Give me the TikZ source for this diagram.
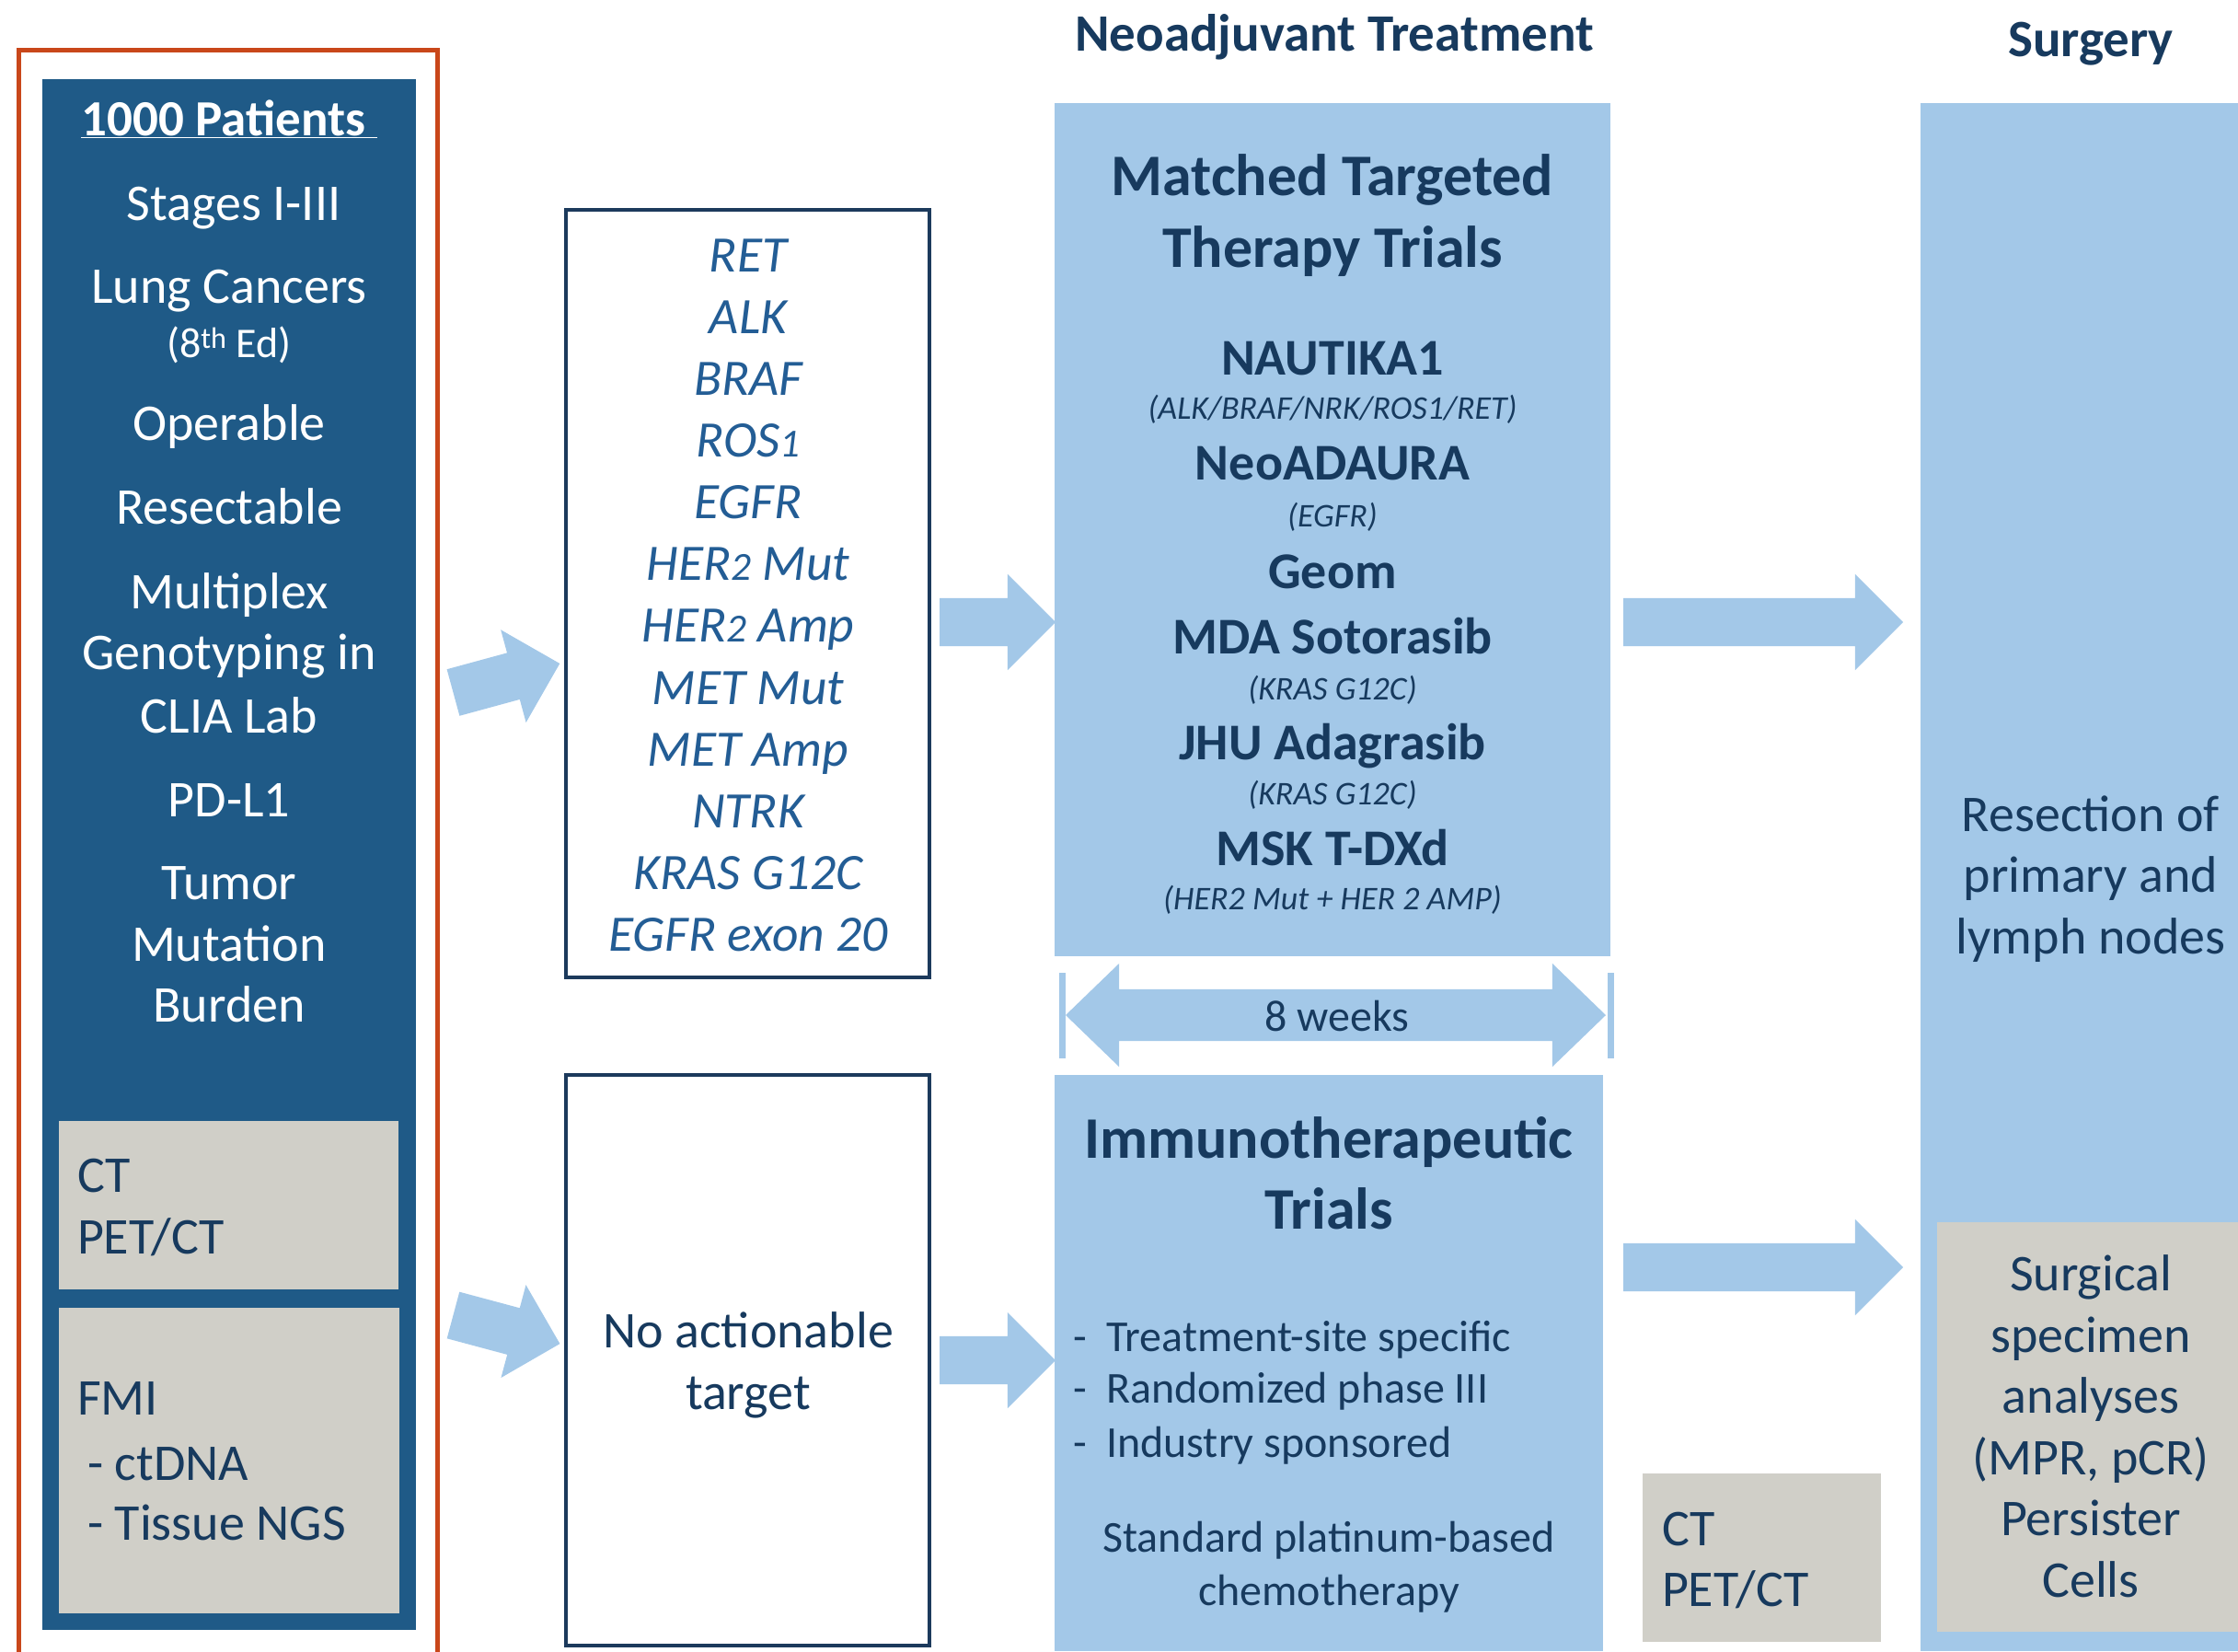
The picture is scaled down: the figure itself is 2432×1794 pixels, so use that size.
\documentclass[tikz,border=0pt]{standalone}
\usepackage{fontspec}
\setmainfont{Carlito}
\usetikzlibrary{shapes.arrows}
\definecolor{navy}{HTML}{173A5E}
\definecolor{genec}{HTML}{235D95}
\definecolor{dblue}{HTML}{1F5A87}
\definecolor{lblue}{HTML}{A3C8E8}
\definecolor{greyb}{HTML}{D0CFC8}
\definecolor{orng}{HTML}{C9471A}
\definecolor{boxline}{HTML}{1C3A5C}
\begin{document}
\begin{tikzpicture}[x=1pt,y=-1pt,
  every node/.style={inner sep=0pt, outer sep=0pt},
  panel/.style={anchor=north west, draw=none},
  t54/.style={anchor=base, font=\fontsize{56}{68}\selectfont},
  wt/.style={t54, text=white},
  wtb/.style={wt, font=\fontsize{55}{67}\selectfont\bfseries},
  nt/.style={t54, text=navy},
  ntl/.style={nt, anchor=base west},
  ntb/.style={nt, font=\fontsize{56}{68}\selectfont\bfseries},
  gene/.style={t54, text=genec, font=\fontsize{55.5}{67}\selectfont\itshape},
  sub/.style={anchor=base, text=navy, font=\fontsize{36}{44}\selectfont\itshape},
  big/.style={anchor=base, text=navy, font=\fontsize{64}{78}\selectfont\bfseries},
  head/.style={anchor=base, text=navy, font=\fontsize{57}{69}\selectfont\bfseries},
  small/.style={anchor=base, text=navy, font=\fontsize{48}{58}\selectfont},
  fat/.style={single arrow, fill=lblue, draw=none, inner sep=0pt, inner ysep=26pt,
    single arrow head extend=26pt, single arrow tip angle=90, single arrow head indent=0pt,
    anchor=tail},
]
\useasboundingbox[fill=white] (0,0) rectangle (2432,1794);

% orange frame
\coordinate (ofbl) at (20,1800);
\coordinate (oftl) at (20,54.5);
\coordinate (oftr) at (475,54.5);
\coordinate (ofbr) at (475,1800);
\draw[orng, line width=5pt] (ofbl) -- (oftl) -- (oftr) -- (ofbr);

% panels
\node[panel, fill=dblue, minimum width=406pt, minimum height=1685pt] (pat) at (46,86) {};
\node[panel, fill=greyb, minimum width=369pt, minimum height=183pt] (ct1) at (64,1218) {};
\node[panel, fill=greyb, minimum width=370pt, minimum height=332pt] (fmi) at (64,1421) {};
\node[panel, draw=boxline, line width=4pt, minimum width=395pt, minimum height=834pt] (genes) at (615,228) {};
\node[panel, draw=boxline, line width=4pt, minimum width=395pt, minimum height=620pt] (noact) at (615,1168) {};
\node[panel, fill=lblue, minimum width=604pt, minimum height=927pt] (match) at (1146,112) {};
\node[panel, fill=lblue, minimum width=596pt, minimum height=626pt] (immuno) at (1146,1168) {};
\node[panel, fill=lblue, minimum width=345pt, minimum height=1682pt] (surg) at (2087,112) {};
\node[panel, fill=greyb, minimum width=327pt, minimum height=445pt] (sgrey) at (2105,1328) {};
\node[panel, fill=greyb, minimum width=259pt, minimum height=183pt] (ct2) at (1785,1601) {};

% left patient text
\node[wtb] (p1) at (249,147) {\underline{1000 Patients\ }};
\node[wt] (p2) at (254,239) {Stages I-III};
\node[wt] (p3) at (249,329) {Lung Cancers};
\node[wt, font=\fontsize{46}{55}\selectfont] (p4) at (249,388) {(8\textsuperscript{th} Ed)};
\node[wt] (p5) at (249,478) {Operable};
\node[wt] (p6) at (249,569) {Resectable};
\node[wt] (p7) at (249,661) {Multiplex};
\node[wt] (p8) at (249,727) {Genotyping in};
\node[wt] (p9) at (249,796) {CLIA Lab};
\node[wt] (p10) at (249,887) {PD-L1};
\node[wt] (p11) at (249,977) {Tumor};
\node[wt] (p12) at (249,1044) {Mutation};
\node[wt] (p13) at (249,1110) {Burden};

\node[ntl] (c1) at (84,1295) {CT};
\node[ntl] (c2) at (84,1362) {PET/CT};
\node[ntl] (f1) at (84,1537) {FMI};
\node[ntl] (f2) at (95,1608) {- ctDNA};
\node[ntl] (f3) at (95,1673) {- Tissue NGS};

% gene list (old-style figure look for ROS1 / HER2)
\newcommand\osn[1]{\scalebox{0.78}{#1}}
\node[gene] (g1) at (813,295) {RET};
\node[gene] (g2) at (813,362) {ALK};
\node[gene] (g3) at (813,429) {BRAF};
\node[gene] (g4) at (813,496) {ROS\osn{1}};
\node[gene] (g5) at (813,563) {EGFR};
\node[gene] (g6) at (813,630) {HER\osn{2} Mut};
\node[gene] (g7) at (813,697) {HER\osn{2} Amp};
\node[gene] (g8) at (813,765) {MET Mut};
\node[gene] (g9) at (813,832) {MET Amp};
\node[gene] (g10) at (813,899) {NTRK};
\node[gene] (g11) at (813,966) {KRAS G12C};
\node[gene] (g12) at (813,1033) {EGFR exon 20};

\node[nt] (n1) at (813,1464) {No actionable};
\node[nt] (n2) at (813,1531) {target};

% headers
\node[head] (h1) at (1450,55) {Neoadjuvant Treatment};
\node[head] (h2) at (2272,61) {Surgery};

% matched targeted
\node[big] (m1) at (1448,212) {Matched Targeted};
\node[big] (m2) at (1448,290) {Therapy Trials};
\node[ntb] (m3) at (1448,407) {NAUTIKA1};
\node[sub] (m4) at (1448,455) {(ALK/BRAF/NRK/ROS1/RET)};
\node[ntb] (m5) at (1448,521) {NeoADAURA};
\node[sub] (m6) at (1448,572) {(EGFR)};
\node[ntb] (m7) at (1448,639) {Geom};
\node[ntb] (m8) at (1448,710) {MDA Sotorasib};
\node[sub] (m9) at (1448,760) {(KRAS G12C)};
\node[ntb] (m10) at (1448,825) {JHU Adagrasib};
\node[sub] (m11) at (1448,874) {(KRAS G12C)};
\node[ntb] (m12) at (1448,940) {MSK T-DXd};
\node[sub] (m13) at (1448,988) {(HER2 Mut + HER 2 AMP)};

% immunotherapeutic
\node[big] (i1) at (1444,1258) {Immunotherapeutic};
\node[big] (i2) at (1444,1335) {Trials};
\node[small, anchor=base west] (i3d) at (1166,1468) {-};
\node[small, anchor=base west] (i3) at (1202,1468) {Treatment-site specific};
\node[small, anchor=base west] (i4d) at (1166,1524) {-};
\node[small, anchor=base west] (i4) at (1202,1524) {Randomized phase III};
\node[small, anchor=base west] (i5d) at (1166,1583) {-};
\node[small, anchor=base west] (i5) at (1202,1583) {Industry sponsored};
\node[small] (i6) at (1444,1686) {Standard platinum-based};
\node[small] (i7) at (1444,1744) {chemotherapy};

% 8 weeks
\node[double arrow, fill=lblue, inner sep=0pt, inner ysep=28pt, double arrow head extend=28pt,
      double arrow tip angle=88, double arrow head indent=0pt, minimum height=587pt] (wk) at (1451.5,1103) {};
\coordinate (b1t) at (1154,1057); \coordinate (b1b) at (1154,1150);
\coordinate (b2t) at (1750,1057); \coordinate (b2b) at (1750,1150);
\draw[lblue, line width=7pt] (b1t) -- (b1b);
\draw[lblue, line width=7pt] (b2t) -- (b2b);
\node[small] (wkt) at (1453,1120) {8 weeks};

% surgery
\node[nt] (s1) at (2272,903) {Resection of};
\node[nt] (s2) at (2272,969) {primary and};
\node[nt] (s3) at (2272,1036) {lymph nodes};
\node[nt] (s4) at (2272,1402) {Surgical};
\node[nt] (s5) at (2272,1469) {specimen};
\node[nt] (s6) at (2272,1535) {analyses};
\node[nt] (s7) at (2272,1602) {(MPR, pCR)};
\node[nt] (s8) at (2272,1668) {Persister};
\node[nt] (s9) at (2272,1735) {Cells};

\node[ntl] (r1) at (1806,1679) {CT};
\node[ntl] (r2) at (1806,1745) {PET/CT};

% block arrows
\node[fat, minimum height=120pt, rotate=15.25] (a1) at (492.5,752.5) {};
\node[fat, minimum height=120pt, rotate=-15] (a2) at (492.5,1429) {};
\node[fat, minimum height=126pt] (a3) at (1021,676) {};
\node[fat, minimum height=126pt] (a4) at (1021,1478) {};
\node[fat, minimum height=304pt] (a5) at (1764,676) {};
\node[fat, minimum height=304pt] (a6) at (1764,1377) {};
\end{tikzpicture}
\end{document}
